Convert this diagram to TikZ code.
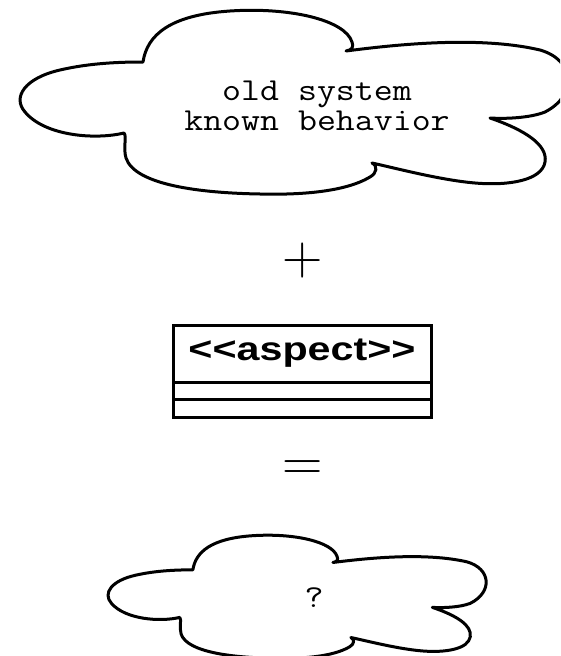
\documentclass[tikz,border=0pt]{standalone}
\usepackage{fontspec}
\usepackage{tikz}
\usetikzlibrary{positioning}

\newfontfamily\arialfont{Liberation Sans}
\newcommand{\wide}[1]{\scalebox{1.15}[1]{#1}}

\tikzset{
    cloudline/.style={line width=3pt, line join=round},
    umlbox/.style={draw, line width=3pt, minimum width=258pt, inner sep=0pt, outer sep=0pt},
    cloudtext/.style={align=center, font=\fontsize{32}{30}\selectfont\ttfamily},
    mathsign/.style={inner sep=0pt, font=\fontsize{56}{56}\selectfont\rmfamily}
}

\begin{document}
\begin{tikzpicture}[x=1pt, y=-1pt]
    \clip (0,0) rectangle (560,656);

    % the two clouds, same outline, the lower one shrunk
    \foreach \dx/\dy/\sx/\sy in {0/0/1/1, 94.2/528.3/0.69/0.67} {
        \draw[cloudline, shift={(\dx,\dy)}, xscale=\sx, yscale=\sy]
            (143,62) .. controls (147,35) and (170,15) .. (230,11)
            .. controls (290,7) and (345,20) .. (352,42)
            .. controls (354,47) and (352,50) .. (346,51)
            .. controls (400,44) and (480,36) .. (540,50)
            .. controls (575,60) and (578,95) .. (545,112)
            .. controls (530,118) and (505,119) .. (490,118)
            .. controls (525,130) and (548,145) .. (545,162)
            .. controls (542,180) and (510,186) .. (475,183)
            .. controls (440,180) and (395,168) .. (372,163)
            .. controls (378,166) and (377,173) .. (370,177)
            .. controls (345,192) and (300,195) .. (260,194)
            .. controls (200,193) and (135,185) .. (126,158)
            .. controls (123,148) and (127,136) .. (124,133)
            .. controls (95,140) and (45,136) .. (25,112)
            .. controls (12,97) and (25,78) .. (60,70)
            .. controls (90,63) and (120,62) .. (143,62) -- cycle;
    }
    \node[cloudtext] (oldsystem) at (317,106) {\wide{old system}\\\wide{known behavior}};
    \node[cloudtext] (unknown) at (314,598) {\wide{?}};

    \node[mathsign] (plus) at (303,261) {+};

    % uml class with empty compartments
    \node[umlbox, minimum height=57pt, anchor=north] (aspectname) at (302,325)
        {\fontsize{33}{33}\selectfont\arialfont\bfseries\scalebox{1.25}[1]{<<aspect>>}};
    \node[umlbox, minimum height=17pt, anchor=north] (aspectattrs) at (aspectname.south) {};
    \node[umlbox, minimum height=18pt, anchor=north] (aspectops) at (aspectattrs.south) {};

    \node[mathsign] (equals) at (303,471) {=};
\end{tikzpicture}
\end{document}
